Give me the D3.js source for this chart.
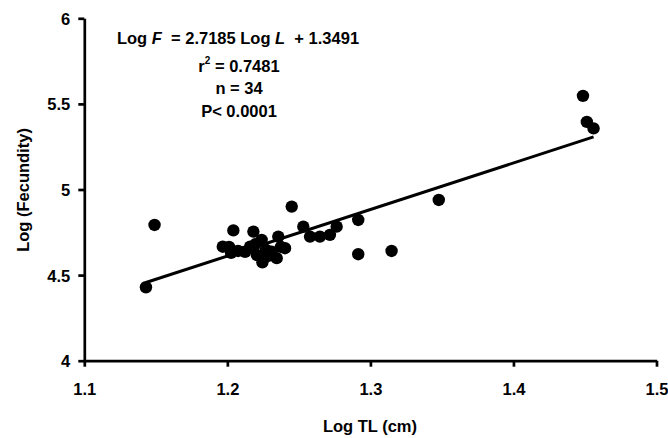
<!DOCTYPE html>
<html>
<head>
<meta charset="utf-8">
<script src="https://cdn.jsdelivr.net/npm/d3@7"></script>
<style>
  body { margin: 0; background: #fff; }
  svg text { font-family: "Liberation Sans", Arial, sans-serif; font-weight: bold; fill: #000; }
</style>
</head>
<body>
<svg id="chart" width="668" height="438"></svg>
<script>
/** Observed points: log total length vs log fecundity */
const logTL = [
  1.1431, 1.1491, 1.1968, 1.2012, 1.2042, 1.2026, 1.2159, 1.2182, 1.2240, 1.2206,
  1.2245, 1.2124, 1.2356, 1.2310, 1.2345, 1.2403, 1.2450, 1.2531, 1.2578, 1.2647,
  1.2717, 1.2764, 1.2915, 1.2915, 1.3148, 1.3478, 1.4486, 1.4513, 1.4560, 1.2075,
  1.2271, 1.2195, 1.2375, 1.2285
];
const logFecundity = [
  4.429, 4.793, 4.666, 4.665, 4.761, 4.630, 4.666, 4.754, 4.706, 4.618,
  4.575, 4.636, 4.725, 4.637, 4.599, 4.657, 4.900, 4.783, 4.725, 4.725,
  4.735, 4.783, 4.822, 4.622, 4.641, 4.939, 5.547, 5.395, 5.357, 4.641,
  4.647, 4.680, 4.665, 4.612
];

/** Regression fit */
const slope = 2.7185;
const intercept = 1.3491;

const xTicks = [1.1, 1.2, 1.3, 1.4, 1.5];
const yTicks = [4, 4.5, 5, 5.5, 6];

let svg = d3.select('#chart');

let xScale = d3.scaleLinear().domain([1.1, 1.5]).range([84.3, 656.5]);
let yScale = d3.scaleLinear().domain([4, 6]).range([360.7, 18.3]);

/** Axes */
let xAxis = d3.axisBottom(xScale).tickValues(xTicks).tickSize(6).tickSizeOuter(0)
  .tickFormat(d3.format('.1f'));
let yAxis = d3.axisLeft(yScale).tickValues(yTicks).tickSize(6).tickSizeOuter(0)
  .tickFormat(d => d);

let gx = svg.append('g').attr('transform', 'translate(0,360.7)').call(xAxis);
let gy = svg.append('g').attr('transform', 'translate(84.3,0)').call(yAxis);

[gx, gy].forEach(g => {
  g.select('.domain').attr('stroke', '#000').attr('stroke-width', 2.7);
  g.selectAll('.tick line').attr('stroke', '#000').attr('stroke-width', 2.7);
  g.selectAll('.tick text').attr('font-size', 16.5).attr('fill', '#000')
    .attr('font-family', '"Liberation Sans", Arial, sans-serif').attr('font-weight', 'bold');
});
gx.selectAll('.tick text').attr('dy', null).attr('y', 34);
gy.selectAll('.tick text').attr('x', -14).attr('dy', '0.36em');

/** Axis titles */
svg.append('text')
  .attr('x', 370).attr('y', 432)
  .attr('text-anchor', 'middle')
  .attr('font-size', 16.5)
  .text('Log TL (cm)');

svg.append('text')
  .attr('transform', 'translate(29,190) rotate(-90)')
  .attr('text-anchor', 'middle')
  .attr('font-size', 16.5)
  .text('Log (Fecundity)');

/** Regression line across the data range */
let xExtent = d3.extent(logTL);
svg.append('line')
  .attr('x1', xScale(xExtent[0])).attr('y1', yScale(slope * xExtent[0] + intercept))
  .attr('x2', xScale(xExtent[1])).attr('y2', yScale(slope * xExtent[1] + intercept))
  .attr('stroke', '#000').attr('stroke-width', 3);

/** Points */
svg.append('g').selectAll('circle')
  .data(logTL.map((v, i) => [v, logFecundity[i]]))
  .enter()
  .append('circle')
  .attr('cx', d => xScale(d[0]))
  .attr('cy', d => yScale(d[1]))
  .attr('r', 6.2)
  .attr('fill', '#000');

/** Equation block */
let notes = svg.append('g').attr('font-size', 16.5).attr('text-anchor', 'middle');

let eq = notes.append('text').attr('x', 238).attr('y', 44).attr('xml:space', 'preserve');
eq.append('tspan').text('Log ');
eq.append('tspan').attr('font-style', 'italic').text('F');
eq.append('tspan').text('  = 2.7185 Log ');
eq.append('tspan').attr('font-style', 'italic').text('L');
eq.append('tspan').text('  + 1.3491');

let r2 = notes.append('text').attr('x', 239).attr('y', 72);
r2.append('tspan').text('r');
r2.append('tspan').attr('font-size', 10).attr('dy', -8).text('2');
r2.append('tspan').attr('dy', 8).text(' = 0.7481');

notes.append('text').attr('x', 239).attr('y', 94).text('n = 34');
notes.append('text').attr('x', 239).attr('y', 117).text('P< 0.0001');
</script>
</body>
</html>
